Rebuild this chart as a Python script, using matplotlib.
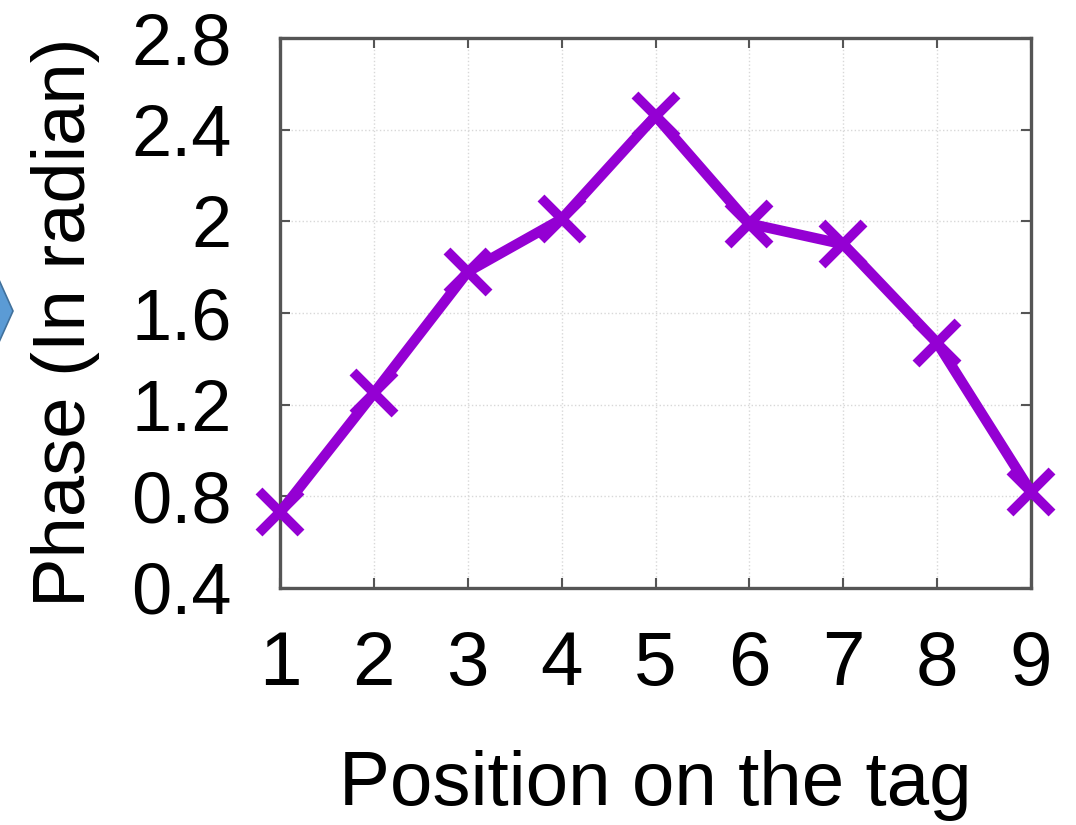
import numpy as np
import matplotlib.pyplot as plt
from matplotlib.patches import Polygon

# Phase measured along the tag
position = [1, 2, 3, 4, 5, 6, 7, 8, 9]
phase = [0.73, 1.25, 1.78, 2.01, 2.46, 1.99, 1.90, 1.47, 0.82]

y_ticks = [0.4, 0.8, 1.2, 1.6, 2.0, 2.4, 2.8]
y_ticklabels = ['0.4', '0.8', '1.2', '1.6', '2', '2.4', '2.8']

VIOLETA = '#9400D3'
W, H = 1076, 825

plt.rcParams['font.family'] = ['Liberation Sans', 'DejaVu Sans']

fig = plt.figure(figsize=(W/100, H/100), dpi=100)
ax = fig.add_axes([280/W, 1 - 588/H, 751/W, 550/H])

ax.plot(position, phase, '-', color=VIOLETA, linewidth=7.5, marker='x',
        markersize=30, markeredgewidth=7, clip_on=False, zorder=3)

ax.set_xlim(1, 9); ax.set_xticks(position)
ax.set_ylim(0.4, 2.8); ax.set_yticks(y_ticks)
ax.set_yticklabels(y_ticklabels)
ax.grid(True, color='#d8d8d8', linestyle=':', linewidth=1)
ax.tick_params(direction='in', length=7, width=1.5, color='#555555',
               top=True, right=True)
ax.tick_params(axis='x', labelsize=55, pad=30)
ax.tick_params(axis='y', labelsize=52, pad=35)
for s in ax.spines.values():
    s.set_linewidth(2.4)
    s.set_color('#555555')

ax.set_xlabel('Position on the tag', fontsize=55)
ax.xaxis.set_label_coords(0.5, -0.295)
ax.set_ylabel('Phase (In radian)', fontsize=53.5)
ax.yaxis.set_label_coords(-0.2397, 0.484)

# flecha azul en el borde izquierdo
flecha = Polygon([(-5/W, 1 - 271/H), (13/W, 1 - 311/H), (-5/W, 1 - 351/H)],
                 closed=True, transform=fig.transFigure, facecolor='#5b9bd5',
                 edgecolor='#41719c', linewidth=1.2, clip_on=False)
fig.patches.append(flecha)

fig.savefig('out.png', dpi=100)
